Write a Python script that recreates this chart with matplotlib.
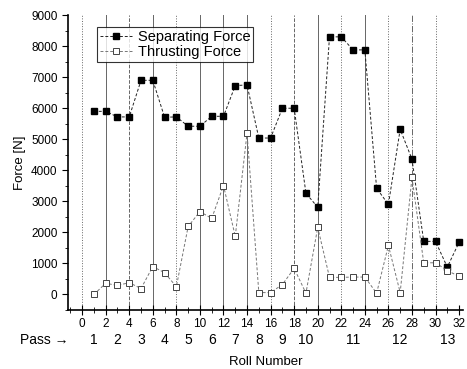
import matplotlib
matplotlib.use("Agg")
import matplotlib.pyplot as plt
from matplotlib.ticker import MultipleLocator

plt.rcParams['font.family'] = ['Liberation Sans', 'DejaVu Sans']

# roll numbers and forces
rolls = list(range(1, 33))
separating = [5900, 5900, 5720, 5720, 6900, 6900, 5710, 5720, 5420, 5420,
              5740, 5740, 6730, 6750, 5040, 5040, 6000, 6000, 3260, 2810,
              8300, 8300, 7880, 7880, 3420, 2900, 5320, 4360, 1710, 1710,
              880, 1680]
thrusting = [0, 360, 290, 380, 190, 900, 700, 250, 2190, 2670,
             2450, 3510, 1870, 5200, 60, 60, 320, 840, 40, 2160,
             550, 550, 560, 560, 40, 1580, 60, 3770, 1020, 1020,
             770, 580]

# pass boundaries (vertical lines) and pass labels
boundaries = list(range(0, 31, 2))
boundary_styles = [':', '-', '--', '-', ':', '-', '-', '-',
                   ':', '--', '-', ':', '-', ':', '-.', ':']
pass_pos = [1, 3, 5, 7, 9, 11, 13, 15, 17, 19, 23, 27, 31]
pass_labels = [str(i) for i in range(1, 14)]

fig = plt.figure(figsize=(4.67, 3.69), dpi=100)
ax = fig.add_axes([0.1456, 0.16, 0.845, 0.799])

for xb, ls in zip(boundaries, boundary_styles):
    ax.axvline(xb, color='#666666', lw=0.7, ls=ls, zorder=1)

ax.plot(rolls, separating, ls=(0, (3, 2)), color='#222222', lw=0.7,
        marker='s', ms=5, mfc='black', mec='black', label='Separating Force',
        zorder=3)
ax.plot(rolls, thrusting, ls=(0, (3, 2)), color='#777777', lw=0.7,
        marker='s', ms=5, mfc='white', mec='#444444', mew=0.7,
        label='Thrusting Force', zorder=3)

ax.set_xlim(-1.2, 32.3)
ax.set_ylim(-500, 9000)
ax.spines['top'].set_visible(False)
ax.spines['right'].set_visible(False)
ax.spines['left'].set_linewidth(1.2)
ax.spines['bottom'].set_linewidth(1.2)

ax.xaxis.set_major_locator(MultipleLocator(2))
ax.xaxis.set_minor_locator(MultipleLocator(1))
ax.yaxis.set_major_locator(MultipleLocator(1000))
ax.yaxis.set_minor_locator(MultipleLocator(500))
ax.tick_params(axis='x', which='major', direction='inout', length=7,
               labelsize=8.5, pad=2)
ax.tick_params(axis='x', which='minor', direction='inout', length=4)
ax.tick_params(axis='y', which='major', direction='out', length=4,
               labelsize=8.5)
ax.tick_params(axis='y', which='minor', direction='out', length=2)

ax.set_ylabel('Force [N]', fontsize=9.5, labelpad=4)
ax.set_xlabel('Roll Number', fontsize=9.5, labelpad=19)

# pass numbers below the roll ticks
for xp, lab in zip(pass_pos, pass_labels):
    ax.annotate(lab, xy=(xp, 0), xycoords=('data', 'axes fraction'),
                xytext=(0, -21.5), textcoords='offset points',
                ha='center', va='center', fontsize=10)
ax.annotate('Pass \u2192', xy=(0, 0), xycoords='axes fraction',
            xytext=(-17, -21.5), textcoords='offset points',
            ha='center', va='center', fontsize=10)

leg = ax.legend(loc='upper left', bbox_to_anchor=(0.073, 0.96),
                borderaxespad=0, fontsize=10.5, frameon=True, fancybox=False,
                edgecolor='black', handlelength=2.2, borderpad=0.2,
                labelspacing=0.1, handletextpad=0.4)
leg.get_frame().set_linewidth(0.8)

fig.savefig('out.png', dpi=100)
